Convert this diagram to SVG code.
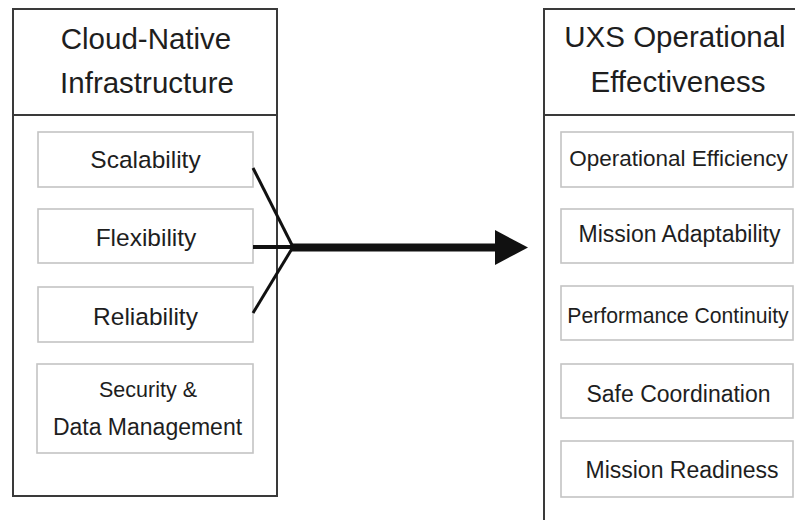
<svg xmlns="http://www.w3.org/2000/svg" width="795" height="520" viewBox="0 0 795 520">
  <style>
    .outer { fill: #ffffff; stroke: #3a3a3a; stroke-width: 2; }
    .div { stroke: #3a3a3a; stroke-width: 2; }
    .item { fill: #ffffff; stroke: #c4c4c4; stroke-width: 1.6; }
    .hdr { font-family: "Liberation Sans", Arial, sans-serif; font-size: 29.5px; fill: #1e1e1e; text-anchor: middle; }
    .lbl { font-family: "Liberation Sans", Arial, sans-serif; fill: #1e1e1e; text-anchor: middle; }
    .conn { stroke: #111111; fill: none; }
  </style>
  <defs>
    <marker id="arrow" viewBox="0 0 33 35" markerWidth="33" markerHeight="35" markerUnits="userSpaceOnUse" refX="0" refY="17.5" orient="auto">
      <path d="M0,0 L33,17.5 L0,35 z" fill="#111111"/>
    </marker>
  </defs>
  <rect width="795" height="520" fill="#ffffff"/>

  <g id="cloud-native-infrastructure">
    <rect class="outer" x="13" y="9" width="264" height="487"/>
    <line class="div" x1="13" y1="115" x2="277" y2="115"/>
    <text class="hdr" x="146" y="49">Cloud-Native</text>
    <text class="hdr" x="147" y="93">Infrastructure</text>
  </g>
  <g id="scalability">
    <rect class="item" x="38" y="132" width="215" height="55"/>
    <text class="lbl" x="145.5" y="168" font-size="24.5">Scalability</text>
  </g>
  <g id="flexibility">
    <rect class="item" x="38" y="209" width="215" height="54"/>
    <text class="lbl" x="146" y="246" font-size="24.5">Flexibility</text>
  </g>
  <g id="reliability">
    <rect class="item" x="38" y="287" width="215" height="55"/>
    <text class="lbl" x="145.5" y="325" font-size="24.5">Reliability</text>
  </g>
  <g id="security-data-management">
    <rect class="item" x="37" y="364" width="216" height="89"/>
    <text class="lbl" x="148" y="397" font-size="21.5">Security &amp;</text>
    <text class="lbl" x="147.5" y="435" font-size="23">Data Management</text>
  </g>

  <g id="uxs-operational-effectiveness">
    <rect class="outer" x="544" y="9" width="262" height="520"/>
    <line class="div" x1="544" y1="115" x2="806" y2="115"/>
    <text class="hdr" x="675" y="47" font-size="29">UXS Operational</text>
    <text class="hdr" x="678" y="92" font-size="29">Effectiveness</text>
  </g>
  <g id="operational-efficiency">
    <rect class="item" x="561" y="132" width="232" height="55"/>
    <text class="lbl" x="678.5" y="166" font-size="22.5">Operational Efficiency</text>
  </g>
  <g id="mission-adaptability">
    <rect class="item" x="561" y="209" width="232" height="54"/>
    <text class="lbl" x="679.5" y="242" font-size="23">Mission Adaptability</text>
  </g>
  <g id="performance-continuity">
    <rect class="item" x="561" y="286" width="232" height="54"/>
    <text class="lbl" x="678" y="323" font-size="21.2">Performance Continuity</text>
  </g>
  <g id="safe-coordination">
    <rect class="item" x="561" y="364" width="232" height="54"/>
    <text class="lbl" x="678.5" y="402" font-size="23">Safe Coordination</text>
  </g>
  <g id="mission-readiness">
    <rect class="item" x="561" y="441" width="232" height="56"/>
    <text class="lbl" x="682" y="478" font-size="23">Mission Readiness</text>
  </g>

  <g id="connectors">
    <line class="conn" x1="253" y1="168" x2="293" y2="247" stroke-width="3"/>
    <line class="conn" x1="253" y1="313" x2="293" y2="247" stroke-width="3"/>
    <line class="conn" x1="253" y1="247" x2="293" y2="247" stroke-width="4"/>
    <line class="conn" x1="291" y1="247.5" x2="495" y2="247.5" stroke-width="8" marker-end="url(#arrow)"/>
  </g>
</svg>
